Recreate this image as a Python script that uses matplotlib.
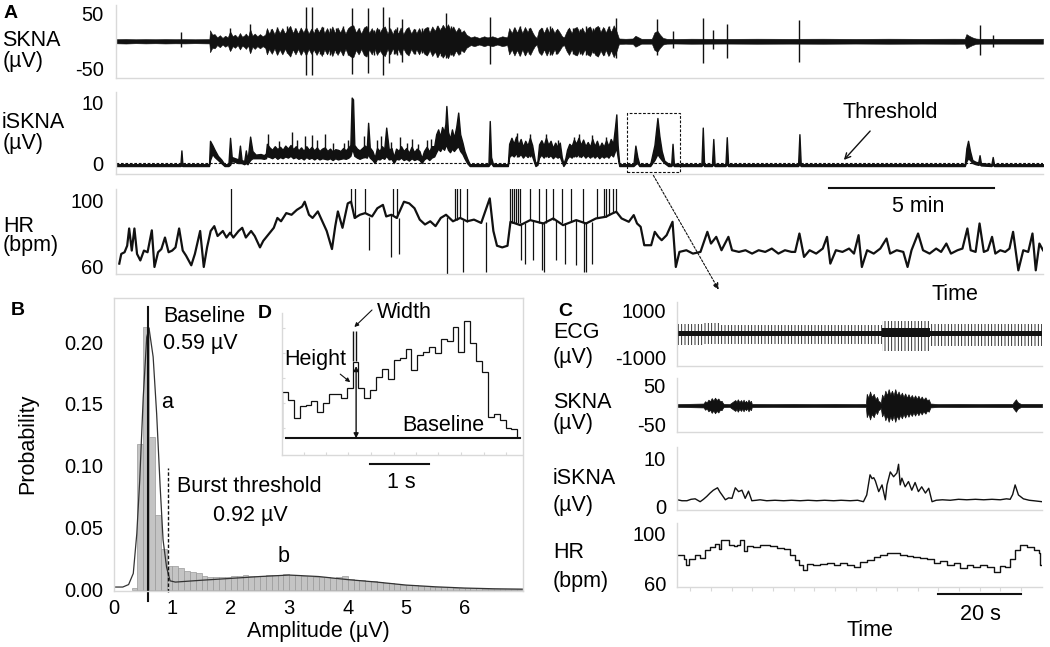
import numpy as np
import matplotlib.pyplot as plt
from matplotlib.patches import Rectangle, FancyArrowPatch

plt.rcParams['font.family'] = ['Liberation Sans', 'DejaVu Sans']
plt.rcParams['axes.unicode_minus'] = False
plt.rcParams['hatch.linewidth'] = 0.6

W, H = 1050, 647
INK = '#111111'
GRID = '#d9d9d9'
FS = 15.5      # label text
FT = 14.5      # tick labels

# ---------- panel A (time in minutes) ----------
skna_env = [
    (0.0, 3.8), (0.3, 4.2), (0.6, 3.6), (0.9, 4.0), (1.2, 3.7), (1.5, 4.1), (1.8, 3.8), (2.1, 4.0), (2.4, 3.6),
    (2.7, 3.9), (2.84, 4.0),
    (2.86, 20), (2.93, 12), (3.0, 13), (3.08, 7), (3.16, 11), (3.24, 6), (3.32, 10), (3.4, 7), (3.47, 18), (3.55, 9),
    (3.62, 12), (3.7, 7), (3.77, 15), (3.84, 8), (3.91, 11), (3.95, 14), (4.02, 8), (4.08, 22), (4.15, 10),
    (4.22, 14), (4.3, 9), (4.38, 13), (4.46, 9), (4.54, 12),
    (4.59, 24), (4.66, 14), (4.74, 23), (4.82, 13), (4.9, 25), (4.98, 15), (5.06, 24), (5.14, 14), (5.22, 22),
    (5.3, 28), (5.38, 15), (5.46, 24), (5.54, 14), (5.62, 25), (5.7, 16), (5.78, 26), (5.86, 14), (5.94, 23),
    (6.02, 15), (6.1, 25), (6.18, 16), (6.26, 27), (6.34, 15), (6.42, 24), (6.5, 14), (6.58, 27), (6.66, 15),
    (6.74, 25), (6.82, 16), (6.9, 26), (6.98, 14), (7.06, 24), (7.14, 28), (7.22, 29), (7.3, 16), (7.38, 24),
    (7.46, 14), (7.54, 25), (7.62, 28), (7.7, 15), (7.78, 24), (7.86, 13), (7.94, 25), (8.02, 16), (8.1, 24),
    (8.18, 27), (8.26, 14), (8.34, 24), (8.42, 13), (8.5, 23), (8.58, 14), (8.66, 25), (8.74, 13), (8.82, 22),
    (8.9, 26), (8.98, 14), (9.06, 23), (9.14, 15), (9.22, 24), (9.3, 14), (9.38, 23), (9.46, 26), (9.54, 16),
    (9.62, 27), (9.7, 19), (9.78, 29), (9.86, 20), (9.94, 30), (10.02, 23), (10.1, 31), (10.18, 20), (10.26, 27),
    (10.34, 17), (10.42, 25), (10.5, 16), (10.58, 20), (10.66, 12), (10.74, 9),
    (10.79, 7), (10.9, 9), (11.05, 6), (11.2, 9), (11.3, 7), (11.45, 9), (11.6, 6), (11.75, 9), (11.9, 7),
    (11.96, 24), (12.04, 15), (12.12, 26), (12.2, 16), (12.28, 27), (12.36, 15), (12.44, 26), (12.52, 17),
    (12.6, 25), (12.68, 15), (12.74, 9), (12.8, 6), (12.86, 20), (12.94, 25), (13.02, 15), (13.1, 26), (13.18, 16),
    (13.26, 25), (13.34, 15), (13.42, 23), (13.5, 16), (13.57, 9), (13.63, 7), (13.7, 17), (13.78, 25), (13.86, 15),
    (13.94, 24), (14.02, 26), (14.1, 16), (14.18, 25), (14.26, 15), (14.34, 24), (14.42, 27), (14.5, 16),
    (14.58, 25), (14.66, 28), (14.74, 17), (14.82, 26), (14.9, 16), (14.98, 27), (15.06, 17), (15.14, 29),
    (15.22, 19),
    (15.3, 5), (15.5, 4.5), (15.72, 5), (15.8, 10), (15.9, 7), (15.98, 4.5), (16.3, 4.5), (16.38, 16), (16.47, 19),
    (16.55, 12), (16.64, 6), (16.75, 4.5), (17.0, 4.2), (17.5, 4.6), (18.5, 4.3), (19.5, 4.6), (20.5, 4.4),
    (21.5, 4.6), (22.5, 4.3), (23.5, 4.6), (24.5, 4.4), (25.5, 4.6), (25.82, 4.5), (25.87, 13), (25.95, 10),
    (26.05, 7), (26.15, 5), (26.25, 4.5), (27.0, 4.4), (28.2, 4.5),
]
skna_spk_t = [1.99, 3.47, 4.08, 4.7, 4.9, 5.05, 5.2, 5.45, 5.62, 5.77, 5.96, 6.05, 6.2, 6.3, 6.5, 6.7, 6.9,
              7.05, 7.19, 7.4, 7.67, 7.85, 8.0, 8.12, 8.31, 8.45, 8.55, 8.7, 8.85, 9.1, 9.3, 9.5, 9.75, 9.9,
              10.04, 10.2, 10.45, 11.37, 12.1, 12.3, 12.45, 12.55, 12.95, 13.2, 13.4, 13.75, 13.9, 14.1, 14.3,
              14.5, 14.7, 14.85, 15.0, 15.22, 16.47, 16.93, 17.85, 18.17, 18.58, 20.79, 26.27, 26.67]
skna_spk_lo = [-10, -16, -20, -20, -24, -22, -22, -19, -23, -62,
               -62, -20, -24, -24, -26, -21, -25, -25, -60, -22,
               -58, -26, -20, -62, -40, -23, -26, -38, -21, -24,
               -22, -22, -28, -27, -30, -25, -24, -42, -22, -26,
               -25, -24, -21, -25, -23, -20, -24, -24, -26, -22,
               -24, -25, -26, -30, -25, -12, -40, -15, -30, -38,
               -25, -10]
skna_spk_hi = [16, 24, 32, 22, 26, 19, 27, 24, 20, 62,
               62, 23, 21, 26, 24, 25, 28, 22, 60, 24,
               60, 21, 23, 62, 45, 20, 26, 40, 25, 22,
               24, 26, 27, 25, 52, 28, 22, 45, 25, 27,
               22, 25, 24, 27, 21, 23, 24, 22, 27, 25,
               26, 24, 28, 42, 40, 18, 42, 20, 31, 38,
               30, 12]

# iSKNA trace as (time, low edge, high edge)
isk_a = [
    (0.0, -0.5, -0.2), (1.0, -0.5, -0.2), (1.96, -0.5, -0.2), (1.99, -0.4, 2.1), (2.02, -0.5, -0.2),
    (2.83, -0.5, -0.2), (2.86, 0.5, 3.7), (2.93, 1.5, 3.0), (3.0, 1.0, 2.2), (3.1, 0.5, 1.2), (3.2, 0.0, 0.6),
    (3.3, -0.5, -0.2), (3.42, -0.5, -0.2), (3.47, -0.3, 4.2), (3.52, 0.3, 1.0), (3.62, 0.2, 0.8), (3.72, 0.0, 0.6),
    (3.77, 0.0, 2.9), (3.82, 0.0, 0.5), (3.9, -0.2, 0.3), (3.95, 0.0, 2.1), (4.0, -0.2, 0.4), (4.08, 0.5, 4.4),
    (4.15, 0.8, 2.0), (4.25, 0.8, 1.4), (4.4, 0.8, 1.5), (4.5, 0.7, 1.3), (4.56, 0.8, 1.6),
    (4.59, 1.2, 3.2), (4.67, 1.0, 2.6), (4.75, 0.8, 2.2), (4.83, 1.1, 2.8), (4.91, 0.7, 2.3), (4.99, 1.0, 2.7),
    (5.07, 0.8, 2.2), (5.15, 1.1, 2.9), (5.23, 0.9, 2.4), (5.31, 1.2, 3.0), (5.39, 0.8, 2.3), (5.47, 1.0, 2.8),
    (5.55, 0.7, 2.1), (5.63, 0.9, 2.6), (5.71, 0.6, 2.0), (5.79, 1.0, 2.8), (5.87, 0.7, 2.2), (5.95, 0.9, 2.7),
    (6.03, 0.6, 2.1), (6.11, 0.9, 2.6), (6.19, 0.6, 2.0), (6.27, 0.8, 2.4), (6.35, 0.7, 2.6), (6.43, 0.6, 2.0),
    (6.51, 0.8, 2.4), (6.59, 0.5, 1.9), (6.67, 0.8, 2.3), (6.75, 0.6, 2.2), (6.83, 0.7, 2.0), (6.91, 0.8, 2.5),
    (6.99, 0.7, 2.1), (7.07, 0.9, 2.6), (7.13, 1.2, 3.0), (7.17, 2.0, 10.9), (7.21, 2.0, 10.6), (7.25, 1.2, 3.0),
    (7.33, 0.9, 2.4), (7.41, 0.7, 2.1), (7.49, 0.9, 2.5), (7.57, 1.0, 2.9), (7.63, 0.9, 2.6), (7.67, 1.5, 6.7),
    (7.72, 0.9, 2.6), (7.8, 0.5, 2.0), (7.87, 0.0, 0.9), (7.94, 0.7, 2.5), (8.02, 0.6, 2.0), (8.09, 0.9, 2.8),
    (8.16, 0.7, 2.3), (8.22, 1.2, 5.9), (8.3, 0.6, 2.2), (8.38, 0.7, 2.5), (8.45, 0.0, 1.0), (8.52, 0.7, 2.4),
    (8.6, 0.6, 2.0), (8.67, 0.9, 2.8), (8.75, 0.5, 2.0), (8.83, 0.7, 2.5), (8.91, 0.4, 1.7), (8.99, 0.8, 2.7),
    (9.07, 0.5, 1.8), (9.15, 0.7, 2.4), (9.23, 0.5, 2.0), (9.3, 0.0, 0.8), (9.37, 0.6, 2.0), (9.45, 0.9, 2.7),
    (9.53, 0.5, 1.9), (9.6, 0.9, 2.8), (9.68, 1.1, 2.8),
    (9.74, 1.8, 4.8), (9.8, 2.4, 5.6), (9.86, 2.0, 4.4), (9.92, 2.6, 6.0), (9.98, 2.2, 5.2), (10.02, 2.8, 6.5),
    (10.05, 3.0, 9.5), (10.1, 2.2, 5.2), (10.16, 1.8, 4.0), (10.22, 2.4, 5.6), (10.28, 2.0, 4.2), (10.35, 2.5, 6.0),
    (10.41, 2.8, 8.4), (10.47, 2.0, 4.8), (10.54, 1.5, 3.4), (10.6, 0.8, 2.0), (10.68, 0.0, 0.8),
    (10.76, -0.5, -0.2),
    (11.0, -0.5, -0.2), (11.33, -0.5, -0.2), (11.37, -0.2, 7.0), (11.41, 0.0, 1.0), (11.47, -0.5, -0.2),
    (11.92, -0.5, -0.2),
    (11.96, 1.0, 3.2), (12.03, 1.4, 4.2), (12.1, 1.1, 3.2), (12.17, 1.6, 4.4), (12.24, 1.1, 3.0), (12.31, 1.5, 4.0),
    (12.38, 0.9, 2.7), (12.45, 1.4, 3.7), (12.52, 1.0, 2.9), (12.59, 1.5, 4.2), (12.66, 1.1, 3.0), (12.71, 0.3, 1.4),
    (12.76, -0.5, -0.1), (12.82, -0.3, 0.3), (12.87, 0.9, 3.1), (12.94, 1.4, 3.8), (13.01, 0.9, 2.9),
    (13.08, 1.5, 4.2), (13.15, 1.0, 3.0), (13.22, 1.3, 3.7), (13.29, 0.8, 2.5), (13.36, 1.2, 3.4), (13.43, 0.9, 2.7),
    (13.5, 1.1, 3.4), (13.56, 0.2, 1.0), (13.61, -0.5, -0.1), (13.67, 0.0, 0.8), (13.72, 0.7, 2.2),
    (13.79, 1.2, 3.2), (13.86, 0.9, 2.8), (13.93, 1.4, 3.9), (14.0, 1.1, 3.2), (14.07, 1.5, 4.2), (14.14, 1.0, 3.0),
    (14.21, 1.4, 3.9), (14.28, 0.9, 2.8), (14.35, 1.3, 3.5), (14.42, 0.9, 2.7), (14.49, 1.4, 4.0), (14.56, 0.9, 2.8),
    (14.63, 1.3, 3.7), (14.7, 0.8, 2.5), (14.77, 1.2, 3.4), (14.84, 0.9, 2.7), (14.91, 1.3, 3.8), (14.98, 0.9, 2.8),
    (15.05, 1.5, 4.0), (15.12, 1.1, 3.2), (15.18, 2.0, 6.0), (15.22, 2.5, 8.1), (15.26, 1.0, 3.0),
    (15.31, -0.5, -0.2),
    (15.5, -0.5, -0.2), (15.74, -0.5, -0.2), (15.8, -0.2, 2.9), (15.86, 0.0, 1.0), (15.92, -0.5, -0.2),
    (16.25, -0.5, -0.2), (16.38, 0.5, 3.0), (16.47, 1.5, 7.5), (16.53, 1.0, 4.5), (16.6, 0.5, 2.0), (16.68, 0.0, 0.4),
    (16.8, -0.5, -0.1), (16.89, -0.5, -0.2), (16.93, -0.2, 3.2), (16.97, -0.5, -0.1), (17.1, -0.5, -0.2),
    (17.81, -0.5, -0.2), (17.85, -0.2, 5.9), (17.89, -0.5, -0.2), (18.13, -0.5, -0.2), (18.17, -0.2, 4.0),
    (18.21, -0.5, -0.2), (18.54, -0.5, -0.2), (18.58, -0.2, 4.3), (18.62, -0.5, -0.2), (20.75, -0.5, -0.2),
    (20.79, -0.2, 4.8), (20.83, -0.5, -0.2), (25.82, -0.5, -0.2), (25.87, 0.3, 2.5), (25.92, 0.8, 3.7),
    (25.98, 0.5, 2.0), (26.05, 0.0, 0.5), (26.15, -0.2, 0.2), (26.23, -0.3, 0.1), (26.27, -0.2, 1.3),
    (26.31, -0.4, 0.0), (26.63, -0.5, -0.2), (26.67, -0.3, 1.0), (26.71, -0.5, -0.2), (28.2, -0.5, -0.2),
]
isk_spk_t = [4.62, 4.95, 5.34, 5.5, 5.74, 5.96, 6.1, 6.37, 6.6, 6.93, 7.05, 7.53, 7.95, 8.07, 8.38, 8.65,
             8.85, 9.0, 9.2, 9.45, 9.58, 12.2, 12.59, 13.08, 13.45, 13.93, 14.07, 14.49, 14.91]
isk_spk_top = [4.8, 3.6, 5.1, 3.8, 4.5, 4.6, 3.9, 4.8, 3.3, 3.4, 3.8, 4.5, 3.8, 4.5, 3.5, 4.3,
               3.4, 4.0, 3.2, 3.8, 4.0, 5.0, 4.8, 4.8, 3.8, 4.4, 4.8, 4.6, 4.3]
isk_threshold = 0.0

hr_t = [0.1, 0.16, 0.26, 0.34, 0.4, 0.48, 0.56, 0.64, 0.74, 0.85,
        0.96, 1.09, 1.17, 1.28, 1.38, 1.49, 1.6, 1.71, 1.81, 1.92,
        2.03, 2.13, 2.29, 2.4, 2.56, 2.67, 2.77, 2.88, 2.99, 3.09,
        3.25, 3.36, 3.47, 3.57, 3.73, 3.84, 3.95, 4.11, 4.22, 4.38,
        4.48, 4.64, 4.8, 4.91, 5.02, 5.18, 5.34, 5.5, 5.66, 5.74,
        5.87, 5.98, 6.14, 6.3, 6.41, 6.57, 6.67, 6.75, 6.89, 7.05,
        7.15, 7.26, 7.42, 7.58, 7.79, 7.95, 8.12, 8.22, 8.38, 8.54,
        8.76, 8.92, 9.08, 9.24, 9.4, 9.56, 9.72, 9.88, 10.04, 10.25,
        10.47, 10.68, 10.89, 11.11, 11.37, 11.48, 11.59, 11.75, 11.91, 12.0,
        12.3, 12.6, 13.0, 13.3, 13.6, 14.0, 14.3, 14.6, 14.9, 15.1,
        15.22, 15.38, 15.6, 15.75, 15.85, 15.96, 16.07, 16.28, 16.39, 16.5,
        16.6, 16.75, 16.93, 17.03, 17.14, 17.35, 17.55, 17.78, 17.99, 18.1,
        18.26, 18.42, 18.63, 18.74, 18.95, 19.15, 19.35, 19.55, 19.75, 19.95,
        20.15, 20.35, 20.55, 20.66, 20.79, 20.93, 21.1, 21.3, 21.5, 21.63,
        21.73, 21.9, 22.1, 22.3, 22.45, 22.59, 22.69, 22.85, 23.05, 23.25,
        23.44, 23.55, 23.75, 23.95, 24.08, 24.2, 24.4, 24.55, 24.75, 24.95,
        25.1, 25.26, 25.4, 25.6, 25.75, 25.9, 26.0, 26.15, 26.27, 26.4,
        26.52, 26.65, 26.75, 26.9, 27.05, 27.18, 27.29, 27.45, 27.6, 27.75,
        27.88, 27.98, 28.09, 28.2]
hr_v = [62, 67.8, 68.8, 72.7, 83, 69.8, 83, 67.8, 63.9, 69.8,
        68.8, 81.9, 60, 68.8, 70.7, 77.6, 68.8, 69.8, 71.7, 83,
        69.8, 66.8, 61, 67.8, 81.5, 60, 71.7, 81.5, 84.4, 78.5,
        81.5, 77.6, 80.5, 77.6, 81.5, 83.4, 77.6, 81.5, 78.5, 71.7,
        75.6, 79.5, 83.4, 89.3, 87.3, 92.2, 91.2, 94.1, 96.1, 99,
        91.2, 89.3, 93.2, 86.3, 81.5, 70.7, 84.4, 93.2, 83.4, 98,
        99, 89.3, 91.2, 92.2, 90.2, 95.1, 97.1, 90.2, 91.2, 89.3,
        99, 98, 95.1, 88.3, 85.4, 87.3, 84.4, 89.3, 91.2, 87.3,
        89.3, 87.3, 88.3, 86.3, 101, 81.5, 72.7, 71.7, 72.7, 87,
        85, 88, 86, 89, 85, 88, 86, 89, 90, 92,
        93, 89, 87, 91, 86, 84, 73, 73, 81, 78,
        76, 79, 87, 60, 69, 70, 68, 69, 81, 74,
        78, 70, 78, 70, 69, 70, 68, 70, 69, 71,
        68, 70, 69, 69, 80, 66, 70, 68, 71, 78,
        62, 70, 69, 71, 68, 79, 60, 70, 68, 71,
        77, 68, 70, 69, 60, 70, 80, 70, 68, 71,
        69, 74, 68, 70, 71, 83, 70, 69, 86, 69,
        70, 78, 68, 70, 69, 71, 81, 58, 70, 69,
        80, 58, 74, 70]
hr_spk_t = [3.5, 7.15, 7.26, 7.58, 7.69, 8.38, 8.44, 8.54, 8.6, 10.06, 10.3, 10.36, 10.47, 10.57, 10.68, 11.27,
            12.0, 12.05, 12.1, 12.16, 12.22, 12.28, 12.33, 12.44, 12.6, 12.7, 12.87, 12.97, 13.03, 13.08, 13.29,
            13.4, 13.56, 13.67, 13.83, 13.99, 14.2, 14.25, 14.31, 14.47, 14.63, 14.84, 14.9, 15.0, 15.11, 15.22]
hr_spk_lo = [80, 98, 89, 92, 70, 66, 91, 89, 68, 56, 88, 88, 89, 57, 87, 57,
             86, 86, 86, 86, 86, 86, 64, 62, 88, 64, 86, 58, 57, 86, 88,
             64, 86, 62, 87, 61, 87, 57, 57, 62, 89, 90, 90, 91, 92, 93]
hr_spk_hi = [107, 107, 107, 107, 90, 91, 107, 107, 89, 90, 107, 107, 107, 88, 107, 87,
             107, 107, 107, 107, 107, 107, 86, 86, 107, 88, 107, 87, 87, 107, 107,
             88, 107, 86, 107, 88, 107, 87, 87, 87, 107, 107, 107, 107, 107, 107]

# ---------- panel B ----------
hist_start = 0.3
hist_bin = 0.1
hist_p = [0.001, 0.118, 0.212, 0.123, 0.060, 0.033, 0.019, 0.019, 0.017, 0.015,
          0.014, 0.013, 0.011, 0.010, 0.010, 0.010, 0.010, 0.011, 0.011, 0.012,
          0.011, 0.011, 0.011, 0.0115, 0.0115, 0.012, 0.0125, 0.012, 0.0115, 0.011,
          0.011, 0.0105, 0.010, 0.0098, 0.0095, 0.0105, 0.0112, 0.0085, 0.008, 0.0075,
          0.007, 0.0065, 0.006, 0.0055, 0.005, 0.0045, 0.004, 0.0037, 0.0033, 0.003,
          0.0027, 0.0024, 0.0021, 0.0019, 0.0017, 0.0015, 0.0013, 0.0011, 0.001, 0.0014,
          0.0008, 0.0007, 0.0006, 0.0005, 0.0004, 0.0004, 0.0003]
fit_x = [0, 0.15, 0.25, 0.33, 0.39, 0.44, 0.5, 0.56, 0.6, 0.67, 0.73, 0.79, 0.84, 0.9, 0.96, 1.05,
         1.5, 2.0, 2.5, 3.0, 3.5, 4.0, 4.5, 5.0, 5.5, 6.0, 6.5, 7.0]
fit_y = [0.002, 0.002, 0.004, 0.013, 0.045, 0.088, 0.155, 0.204, 0.211, 0.188, 0.142, 0.083, 0.040, 0.018,
         0.007, 0.006, 0.0075, 0.009, 0.0105, 0.0117, 0.0105, 0.008, 0.006, 0.0036, 0.0022, 0.0012, 0.0006, 0.0003]
baseline_uv = 0.59
burst_thr_uv = 0.92

# ---------- panel D (0.1 s bins) ----------
inset_v = [4.57, 3.83, 2.0, 3.23, 3.33, 3.67, 2.67, 3.5, 4.43, 4.43,
           4.0, 5.0, 7.57, 5.0, 4.0, 4.83, 6.1, 6.93, 5.9, 7.83,
           8.0, 8.9, 6.83, 8.33, 8.57, 9.1, 8.5, 9.9, 9.67, 11.1,
           8.57, 11.67, 9.5, 7.67, 6.57, 2.17, 2.43, 1.83, 1.07, 0.9]

# ---------- panel C (time in seconds) ----------
ecg_t = [-3.2, 3.2, 7.3, 46.4, 58.1, 85.1]
ecg_hi = [420, 480, 380, 560, 460, 460]
ecg_lo = [-480, -435, -435, -725, -508, -508]
ecg_core = [140, 160, 140, 280, 150, 150]

skna_c = [(-3.2, 3.5), (3.2, 5), (3.6, 11), (4.0, 8), (4.4, 15), (4.8, 11), (5.2, 19), (5.6, 13), (6.0, 20),
          (6.4, 14), (6.8, 18), (7.2, 11), (7.6, 12), (7.9, 6), (8.1, 4), (9.5, 3.5), (10.9, 14), (11.2, 9),
          (11.5, 16), (11.9, 9), (12.3, 14), (12.6, 8), (12.9, 15), (13.2, 8), (13.5, 12), (13.8, 7), (14.1, 15),
          (14.4, 9), (14.7, 12), (14.9, 4), (20, 3.5), (25, 4), (30, 3.5), (35, 4), (40, 3.5), (42.5, 4),
          (42.7, 30), (43.1, 20), (43.5, 36), (43.9, 22), (44.4, 30), (44.8, 16), (45.2, 22), (45.5, 12),
          (45.8, 10), (46.1, 6), (46.4, 28), (46.8, 20), (47.2, 38), (47.6, 26), (48.0, 42), (48.4, 28),
          (48.8, 38), (49.2, 26), (49.6, 42), (50.0, 26), (50.4, 36), (50.8, 24), (51.2, 33), (51.6, 22),
          (52.0, 31), (52.4, 20), (52.8, 29), (53.2, 19), (53.6, 27), (54.0, 18), (54.4, 26), (54.8, 17),
          (55.2, 25), (55.6, 16), (56.0, 23), (56.4, 15), (56.9, 21), (57.3, 13), (57.7, 16), (58.1, 5),
          (60, 3.5), (65, 4), (70, 3.5), (75, 4), (78.0, 4), (78.2, 8), (78.5, 12), (78.8, 16), (79.1, 10),
          (79.4, 7), (80, 4), (85.1, 4)]

isk_c = [(-3.1, 1.4), (-2.0, 1.2), (-0.8, 1.2), (0.2, 1.5), (1.2, 1.6), (2.4, 1.0), (3.2, 1.5), (4.0, 2.1),
         (4.8, 2.8), (5.6, 3.4), (6.6, 3.9), (7.2, 3.0), (7.7, 2.4), (8.5, 1.4), (9.3, 1.8), (10.1, 1.7),
         (10.9, 3.9), (11.7, 3.1), (12.5, 3.4), (13.3, 1.7), (14.1, 3.2), (14.9, 1.2), (16.0, 1.3), (16.9, 1.4),
         (18.5, 1.2), (20.5, 1.3), (22.6, 1.2), (24.5, 1.3), (26.6, 1.2), (28.5, 1.3), (30.6, 1.2), (32.5, 1.3),
         (34.7, 1.2), (36.5, 1.3), (38.7, 1.2), (40.5, 1.3), (41.9, 1.0), (42.7, 2.4), (43.5, 6.6), (44.0, 5.8),
         (44.4, 6.0), (44.8, 5.3), (45.6, 3.1), (46.4, 4.5), (47.2, 1.4), (47.6, 4.5), (48.4, 7.2), (49.2, 6.2),
         (49.6, 6.6), (50.0, 7.0), (50.4, 8.8), (50.8, 4.5), (51.2, 5.9), (52.0, 4.1), (52.8, 5.2), (53.6, 3.4),
         (54.4, 5.0), (55.2, 3.1), (56.0, 4.1), (56.9, 2.8), (57.7, 3.8), (58.5, 1.0), (59.5, 1.3), (61.0, 1.4),
         (62.9, 1.3), (64.9, 1.5), (66.9, 1.4), (69.0, 1.5), (71.0, 1.4), (73.0, 1.5), (75.0, 1.4), (76.5, 1.6),
         (77.4, 1.5), (78.0, 2.5), (78.6, 4.5), (79.4, 2.4), (80.6, 1.6), (82.0, 1.3), (83.1, 1.2), (85.1, 1.0)]

hr_c = [(-3.1, 82.7), (-1.6, 80), (-1.0, 74.7), (-0.2, 80), (1.2, 82.7), (2.4, 80.5), (3.6, 86.7), (4.8, 89.3),
        (6.0, 92), (6.9, 88), (7.4, 95.2), (8.5, 95.2), (9.3, 91.2), (10.5, 90), (11.3, 90.5), (12.1, 94.7),
        (12.9, 85.9), (13.7, 90), (15.3, 89.3), (16.9, 90.7), (18.1, 91.2), (19.4, 90), (21.0, 88.5), (22.6, 87.5),
        (24.2, 82.7), (25.4, 78.7), (26.2, 74.7), (27.4, 71.2), (28.2, 76), (29.8, 75.2), (31.5, 76), (33.1, 76.8),
        (34.7, 74.7), (36.3, 76.8), (37.9, 75.2), (39.5, 73.3), (41.1, 77), (42.7, 78.7), (44.4, 81.3), (46.0, 82.7),
        (47.6, 84.5), (49.2, 84.5), (50.8, 82.7), (52.4, 81.9), (54.0, 81.3), (55.6, 80.8), (57.3, 80), (58.9, 76.5),
        (60.5, 77.9), (62.1, 75.2), (63.7, 76.3), (65.3, 72.5), (66.9, 74.7), (68.5, 73.1), (70.2, 74.7),
        (71.8, 73.3), (73.4, 69.3), (75.0, 74.1), (76.2, 73.3), (77.4, 80), (78.6, 86.7), (79.8, 91.2),
        (81.5, 89.3), (83.1, 86.7), (84.3, 84.8), (84.7, 74.7), (85.1, 74.7)]


def cols(rows):
    return [np.array(c) for c in zip(*rows)]


fig = plt.figure(figsize=(W / 100, H / 100), dpi=100)


def px_axes(x0, y0, x1, y1):
    return fig.add_axes([x0 / W, 1 - y1 / H, (x1 - x0) / W, (y1 - y0) / H])


def ftext(x, y, s, **kw):
    kw.setdefault('fontsize', FS)
    kw.setdefault('va', 'center')
    fig.text(x / W, 1 - y / H, s, **kw)


def frame(ax, sides=('left', 'bottom')):
    for name, sp in ax.spines.items():
        if name in sides:
            sp.set_color(GRID)
            sp.set_linewidth(1.0)
        else:
            sp.set_visible(False)


def yticks(ax, vals, labels, pad=9):
    ax.set_yticks(vals)
    ax.set_yticklabels(labels)
    ax.tick_params(axis='y', length=0, labelsize=FT, pad=pad)
    ax.set_xticks([])


# ===== panel A =====
t, amp = cols(skna_env)
ax1 = px_axes(116, 5, 1043, 78)
ax1.fill_between(t, -amp, amp, color=INK, lw=0.4)
ax1.vlines(skna_spk_t, skna_spk_lo, skna_spk_hi, color=INK, lw=1.0)
ax1.set_xlim(0, 28.2)
ax1.set_ylim(-67, 66)
frame(ax1)
yticks(ax1, [-50, 50], ['-50', '50'])

t, lo, hi = cols(isk_a)
ax2 = px_axes(116, 92, 1043, 174)
ax2.fill_between(t, lo, hi, color=INK, lw=1.0)
ax2.vlines(isk_spk_t, 1.0, isk_spk_top, color=INK, lw=1.0)
ax2.axhline(isk_threshold, color=INK, lw=0.8, ls=(0, (2.5, 1.5)))
ax2.add_patch(Rectangle((15.56, -1.5), 1.6, 9.9, fill=False, ec=INK, lw=0.8, ls=(0, (2.5, 1.5)), clip_on=False))
ax2.set_xlim(0, 28.2)
ax2.set_ylim(-1.83, 11.83)
frame(ax2)
yticks(ax2, [0, 10], ['0', '10'])

ax3 = px_axes(116, 189, 1043, 274)
ax3.plot(hr_t, hr_v, color=INK, lw=1.6)
ax3.vlines(hr_spk_t, hr_spk_lo, hr_spk_hi, color=INK, lw=0.9)
ax3.set_xlim(0, 28.2)
ax3.set_ylim(55.8, 106.6)
frame(ax3)
yticks(ax3, [60, 100], ['60', '100'])
ax3.plot([21.7, 26.7], [107.2, 107.2], color=INK, lw=1.5, clip_on=False)

ftext(4, 13, 'A', fontweight='bold', fontsize=14)
ftext(2, 40, 'SKNA')
ftext(3, 61, '(µV)')
ftext(2, 123, 'iSKNA')
ftext(3, 143, '(µV)')
ftext(3, 227, 'HR')
ftext(3, 246, '(bpm)')
ftext(918, 207, '5 min', ha='center')
ftext(955, 294, 'Time', ha='center')
ftext(890, 113, 'Threshold', ha='center')
fig.add_artist(FancyArrowPatch((872 / W, 1 - 129 / H), (842 / W, 1 - 162 / H), transform=fig.transFigure,
                               arrowstyle='->', mutation_scale=10, lw=1.0, color=INK))
fig.add_artist(FancyArrowPatch((652 / W, 1 - 173 / H), (720 / W, 1 - 292 / H), transform=fig.transFigure,
                               arrowstyle='-|>', mutation_scale=9, lw=0.8, color=INK, ls=(0, (2, 1.5))))

# ===== panel B =====
axb = px_axes(114, 298, 523, 591)
lefts = hist_start + hist_bin * np.arange(len(hist_p))
axb.bar(lefts, hist_p, width=hist_bin, align='edge', color='#c4c4c4', edgecolor='#9a9a9a', lw=0.5)
axb.plot(fit_x, fit_y, color='#333333', lw=0.9)
axb.plot([baseline_uv, baseline_uv], [-0.009, 0.228], color=INK, lw=1.5, clip_on=False)
axb.plot([burst_thr_uv, burst_thr_uv], [-0.002, 0.098], color=INK, lw=1.0, ls=(0, (2.5, 1.5)), clip_on=False)
axb.set_xlim(0, 7)
axb.set_ylim(-0.0012, 0.2356)
frame(axb, ('left', 'bottom', 'top', 'right'))
axb.set_yticks([0, 0.05, 0.10, 0.15, 0.20])
axb.set_yticklabels(['0.00', '0.05', '0.10', '0.15', '0.20'])
axb.set_xticks(range(7))
axb.tick_params(length=0, labelsize=FT)
axb.tick_params(axis='y', pad=8)
axb.tick_params(axis='x', pad=6)

ftext(11, 310, 'B', fontweight='bold', fontsize=14)
ftext(28, 444, 'Probability', rotation=90, ha='center')
ftext(318, 632, 'Amplitude (µV)', ha='center')
ftext(163, 316, 'Baseline')
ftext(163, 343, '0.59 µV')
ftext(161, 403, 'a')
ftext(177, 487, 'Burst threshold')
ftext(213, 515, '0.92 µV')
ftext(278, 556, 'b')

# ===== panel D =====
axd = px_axes(282, 313, 522, 455)
axd.set_facecolor('none')
axd.stairs(inset_v, color=INK, lw=0.9)
axd.plot([0.6, 40.5], [0, 0], color=INK, lw=1.5)
axd.annotate('', xy=(12.6, 0), xytext=(12.6, 7.2),
             arrowprops=dict(arrowstyle='<|-|>', lw=1.0, color=INK, mutation_scale=7, shrinkA=0, shrinkB=0))
axd.vlines([12.0, 12.65], 7.7, 10.7, color=INK, lw=1.0)
axd.annotate('', xy=(11.6, 5.6), xytext=(9.9, 6.4),
             arrowprops=dict(arrowstyle='-|>', lw=0.8, color=INK, mutation_scale=6, shrinkA=0, shrinkB=0))
axd.annotate('', xy=(12.3, 11.1), xytext=(15.3, 12.8),
             arrowprops=dict(arrowstyle='-|>', lw=0.8, color=INK, mutation_scale=6, shrinkA=0, shrinkB=0))
axd.text(0.3, 7.83, 'Height', fontsize=FS, va='center')
axd.text(16.1, 12.5, 'Width', fontsize=FS, va='center')
axd.text(27.5, 1.23, 'Baseline', fontsize=FS, va='center', ha='center')
axd.plot([15, 25], [-2.6, -2.6], color=INK, lw=1.5, clip_on=False)
axd.set_xlim(0, 40.8)
axd.set_ylim(-1.67, 12.5)
frame(axd)
axd.set_xticks([3.7, 7.5, 11.3, 15.2, 19, 22.8, 26.6, 30.4, 34.3, 38.1])
axd.set_yticks([1, 3.5, 6, 8.5, 11])
axd.tick_params(length=2.5, color=GRID, direction='in', labelleft=False, labelbottom=False)
ftext(401, 483, '1 s', ha='center')
ftext(258, 313, 'D', fontweight='bold', fontsize=14)

# ===== panel C =====
XC = (-3.2, 85.1)
axc1 = px_axes(677, 302, 1042, 366)
axc1.fill_between(ecg_t, ecg_lo, ecg_hi, step='post', facecolor='none', edgecolor=INK, hatch='|||||', lw=0)
core = np.array(ecg_core)
axc1.fill_between(ecg_t, -core * 0.5, core, step='post', color=INK, lw=0)
axc1.set_xlim(*XC)
axc1.set_ylim(-1366, 1387)
frame(axc1)
yticks(axc1, [-1000, 1000], ['-1000', '1000'], pad=8)

t, amp = cols(skna_c)
axc2 = px_axes(677, 378, 1042, 432)
axc2.fill_between(t, -amp, amp, color=INK, lw=0.5)
axc2.set_xlim(*XC)
axc2.set_ylim(-68, 70.5)
frame(axc2)
yticks(axc2, [-50, 50], ['-50', '50'], pad=8)

t, v = cols(isk_c)
axc3 = px_axes(677, 447, 1042, 510)
axc3.plot(t, v, color=INK, lw=1.0)
axc3.set_xlim(*XC)
axc3.set_ylim(-0.73, 12.4)
frame(axc3)
yticks(axc3, [0, 10], ['0', '10'], pad=8)

t, v = cols(hr_c)
axc4 = px_axes(677, 523, 1042, 587)
axc4.step(t, v, where='post', color=INK, lw=1.0)
axc4.set_xlim(*XC)
axc4.set_ylim(57.2, 108.4)
frame(axc4)
yticks(axc4, [60, 100], ['60', '100'], pad=8)
axc4.set_xticks(np.arange(0, 85, 5))
axc4.tick_params(axis='x', length=3, color=GRID, labelbottom=False)
axc4.plot([59.9, 80.0], [51.6, 51.6], color=INK, lw=1.5, clip_on=False)

ftext(558, 312, 'C', fontweight='bold', fontsize=14)
ftext(553, 333, 'ECG')
ftext(553, 357, '(µV)')
ftext(553, 402, 'SKNA')
ftext(553, 424, '(µV)')
ftext(553, 478, 'iSKNA')
ftext(553, 505, '(µV)')
ftext(553, 553, 'HR')
ftext(553, 582, '(bpm)')
ftext(980, 614, '20 s', ha='center')
ftext(870, 631, 'Time', ha='center')

fig.savefig('out.png', dpi=100)
